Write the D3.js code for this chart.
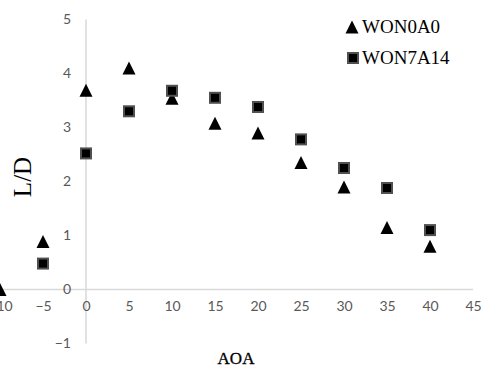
<!DOCTYPE html>
<html>
<head>
<meta charset="utf-8">
<script src="https://cdn.jsdelivr.net/npm/d3@7"></script>
<style>
  body { margin: 0; background: #fff; }
  svg text { font-family: "Liberation Serif", "Times New Roman", serif; }
  .tick text { font-family: Lato, "Open Sans", sans-serif; }
</style>
</head>
<body>
<div class="chart"></div>
<script>
// Data
const aoa = [-10, -5, 0, 5, 10, 15, 20, 25, 30, 35, 40];
const won0a0 = [0.0, 0.89, 3.69, 4.10, 3.54, 3.08, 2.90, 2.35, 1.90, 1.15, 0.80];
const won7a14aoa = [-5, 0, 5, 10, 15, 20, 25, 30, 35, 40];
const won7a14 = [0.48, 2.52, 3.30, 3.68, 3.55, 3.38, 2.78, 2.25, 1.88, 1.10];
const xTicks = [-10, -5, 0, 5, 10, 15, 20, 25, 30, 35, 40, 45];
const yTicks = [-1, 0, 1, 2, 3, 4, 5];

const width = 482, height = 367;
const svg = d3.select('.chart').append('svg')
    .attr('width', width)
    .attr('height', height);

// Scales
const x = d3.scaleLinear().domain([-10, 45]).range([0, 473]);
const y = d3.scaleLinear().domain([-1, 5]).range([343.5, 19.5]);

const axisColor = '#d9d9d9';
const labelColor = '#595959';

// Axis lines through zero
svg.append('line')
    .attr('x1', x(-10)).attr('x2', x(45))
    .attr('y1', y(0)).attr('y2', y(0))
    .attr('stroke', axisColor).attr('stroke-width', 1.5);
svg.append('line')
    .attr('x1', x(0)).attr('x2', x(0))
    .attr('y1', y(-1)).attr('y2', y(5))
    .attr('stroke', axisColor).attr('stroke-width', 1.5);

// X tick labels (below zero line)
const xAxis = svg.append('g')
    .attr('transform', `translate(0,${y(0)})`)
    .call(d3.axisBottom(x).tickValues(xTicks).tickSize(0).tickPadding(12).tickFormat(d3.format('d')));
xAxis.select('.domain').remove();
xAxis.selectAll('text').attr('fill', labelColor).style('font-size', '14px');

// Y tick labels
const yAxis = svg.append('g')
    .attr('transform', `translate(${x(0)},0)`)
    .call(d3.axisLeft(y).tickValues(yTicks).tickSize(0).tickPadding(15).tickFormat(d3.format('d')));
yAxis.select('.domain').remove();
yAxis.selectAll('text').attr('fill', labelColor).style('font-size', '14px');

// Marker shapes
const triPath = 'M0,-7L6.5,6L-6.5,6Z';

function triangle(g, cx, cy) {
    g.append('path')
        .attr('d', triPath)
        .attr('transform', `translate(${cx},${cy + 0.5})`)
        .attr('fill', '#000');
}
function square(g, cx, cy) {
    g.append('rect')
        .attr('x', cx - 5).attr('y', cy - 5)
        .attr('width', 10).attr('height', 10)
        .attr('fill', '#000')
        .attr('stroke', '#505050')
        .attr('stroke-width', 2);
}

const marks = svg.append('g');
aoa.forEach((a, i) => triangle(marks, x(a), y(won0a0[i])));
won7a14aoa.forEach((a, i) => square(marks, x(a), y(won7a14[i])));

// Axis titles
svg.append('text')
    .attr('transform', `translate(31,177) rotate(-90)`)
    .attr('text-anchor', 'middle')
    .style('font-size', '25px')
    .text('L/D');
svg.append('text')
    .attr('x', 236).attr('y', 364)
    .attr('text-anchor', 'middle')
    .style('font-size', '17px')
    .style('stroke', '#000').style('stroke-width', 0.3)
    .text('AOA');

// Legend
const legend = svg.append('g');
triangle(legend, 352, 27);
legend.append('text').attr('x', 362).attr('y', 33).style('font-size', '19px').text('WON0A0');
square(legend, 353, 58);
legend.append('text').attr('x', 362).attr('y', 64).style('font-size', '19px').text('WON7A14');
</script>
</body>
</html>
